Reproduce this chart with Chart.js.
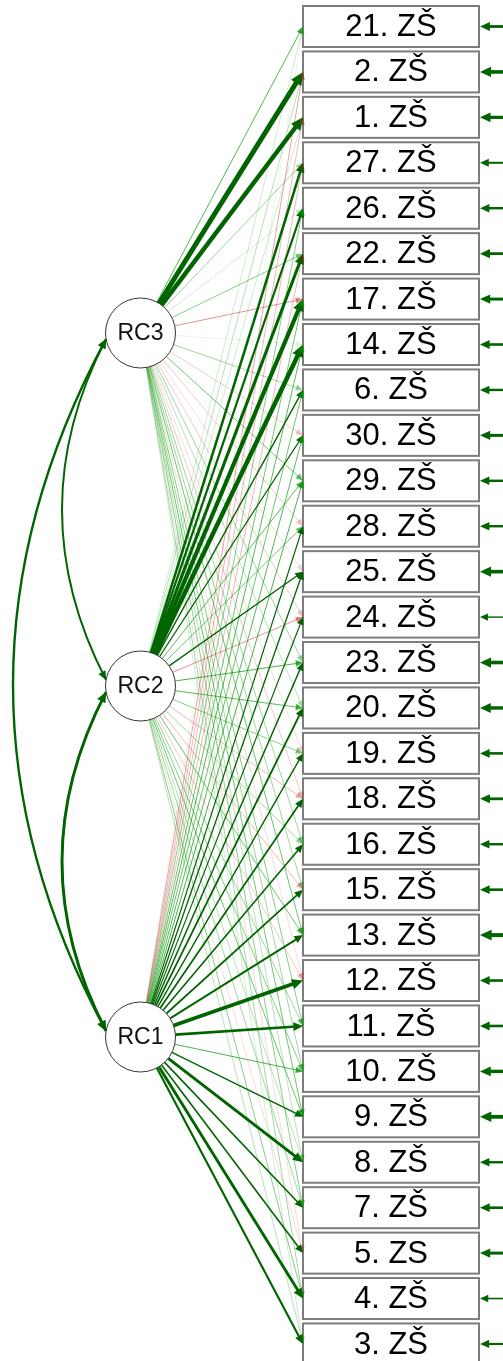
<!DOCTYPE html>
<html>
<head>
<meta charset="utf-8">
<script src="https://cdn.jsdelivr.net/npm/chart.js@4"></script>
<style>
  body { margin: 0; background: #fff; overflow: hidden; }
  canvas { display: block; }
</style>
</head>
<body>
<canvas id="semChart" width="503" height="1361"></canvas>
<script>
// manifest items, top to bottom
const items = ["21. ZŠ", "2. ZŠ", "1. ZŠ", "27. ZŠ", "26. ZŠ", "22. ZŠ", "17. ZŠ", "14. ZŠ", "6. ZŠ", "30. ZŠ",
  "29. ZŠ", "28. ZŠ", "25. ZŠ", "24. ZŠ", "23. ZŠ", "20. ZŠ", "19. ZŠ", "18. ZŠ", "16. ZŠ", "15. ZŠ",
  "13. ZŠ", "12. ZŠ", "11. ZŠ", "10. ZŠ", "9. ZŠ", "8. ZŠ", "7. ZŠ", "5. ZS", "4. ZŠ", "3. ZŠ"];

const latents = ["RC3", "RC2", "RC1"];

// loadings, same order as items
const loadRC3 = [0.36, 0.92, 0.86, 0.22, 0.1, 0.25, -0.3, 0.05, 0.2, -0.15,
  0.3, -0.15, -0.1, -0.15, 0.2, 0.15, -0.1, -0.15, 0.2, 0.2,
  0.3, -0.1, 0.25, 0.2, 0.3, 0.15, 0.25, -0.1, 0.2, 0.1];
const loadRC2 = [0.1, 0.15, 0.1, 0.6, 0.56, 0.68, 0.82, 0.86, 0.45, 0.42,
  0.35, 0.3, 0.44, -0.3, 0.38, 0.35, 0.25, -0.2, 0.2, -0.2,
  0.3, -0.15, 0.2, 0.25, 0.3, 0.15, 0.2, -0.1, 0.25, 0.15];
const loadRC1 = [0.05, -0.25, -0.2, -0.2, 0.25, -0.2, 0.3, 0.35, 0.3, 0.35,
  0.38, 0.43, 0.44, 0.42, 0.45, 0.5, 0.45, 0.5, 0.48, 0.5,
  0.52, 0.75, 0.6, 0.38, 0.45, 0.66, 0.48, 0.48, 0.65, 0.55];

// residual variances (arrow on the right)
const residuals = [0.5, 0.7, 0.6, 0.3, 0.4, 0.5, 0.55, 0.45, 0.4, 0.55,
  0.4, 0.4, 0.7, 0.15, 0.7, 0.65, 0.45, 0.5, 0.4, 0.45,
  0.8, 0.45, 0.45, 0.65, 0.75, 0.4, 0.45, 0.55, 0.2, 0.35];

// latent correlations
const corFrom = ["RC3", "RC2", "RC3"];
const corTo = ["RC2", "RC1", "RC1"];
const corValues = [0.32, 0.65, 0.45];

// ---- layout ----
const W = 503, H = 1361;
const boxLeft = 303, boxRight = 479, boxH = 41, boxTop0 = 6, pitch = 45.43;
const latentX = 140.5, latentR = 35;
const latentY = { RC3: 333, RC2: 686, RC1: 1037 };
const itemY = (i) => boxTop0 + boxH / 2 + i * pitch;
const cut = 0.4;

const edgeStyle = (w) => {
  const a = Math.abs(w);
  if (a >= cut) {
    return { color: w > 0 ? "rgb(0,100,0)" : "rgb(255,0,0)", width: 1 + (a - cut) / (0.9 - cut) * 3.8 };
  }
  const alpha = Math.min(1, a / cut) * 0.85;
  return { color: w > 0 ? `rgba(0,153,0,${alpha})` : `rgba(191,0,0,${alpha * 0.75})`, width: 0.9 };
};

const arrowSize = (lw) => ({ len: 6 + lw * 1.4, half: 2.6 + lw * 0.7 });

const datasets = [];

// latent circles on top
datasets.push({
  data: latents.map((l) => ({ x: latentX, y: latentY[l] })),
  pointRadius: latentR,
  pointHoverRadius: latentR,
  pointBackgroundColor: "#fff",
  pointBorderColor: "#333",
  pointBorderWidth: 1,
  showLine: false,
  order: 0,
});

const loadings = { RC3: loadRC3, RC2: loadRC2, RC1: loadRC1 };
latents.forEach((l) => {
  loadings[l].forEach((w, i) => {
    const st = edgeStyle(w);
    const tx = boxLeft, ty = itemY(i);
    const dx = tx - latentX, dy = ty - latentY[l];
    const d = Math.hypot(dx, dy);
    const ux = dx / d, uy = dy / d;
    const ar = arrowSize(st.width);
    datasets.push({
      data: [
        { x: latentX + ux * latentR, y: latentY[l] + uy * latentR },
        { x: tx - ux * ar.len * 0.7, y: ty - uy * ar.len * 0.7 },
      ],
      showLine: true,
      pointRadius: 0,
      borderColor: st.color,
      borderWidth: st.width,
      arrowTip: { x: tx, y: ty, ux, uy, color: st.color, width: st.width },
      order: 10 + Math.round((1 - Math.abs(w)) * 1000),
    });
  });
});

// residual arrows
residuals.forEach((r, i) => {
  const lw = 0.8 + r * 4;
  const ar = arrowSize(lw);
  datasets.push({
    data: [{ x: W, y: itemY(i) }, { x: boxRight + 1 + ar.len * 0.7, y: itemY(i) }],
    showLine: true,
    pointRadius: 0,
    borderColor: "rgb(0,100,0)",
    borderWidth: lw,
    arrowTip: { x: boxRight + 1, y: itemY(i), ux: -1, uy: 0, color: "rgb(0,100,0)", width: lw },
    order: 5,
  });
});

const drawArrow = (ctx, px, py, ux, uy, color, lw) => {
  const ar = arrowSize(lw);
  const bx = px - ux * ar.len, by = py - uy * ar.len;
  ctx.beginPath();
  ctx.moveTo(px, py);
  ctx.lineTo(bx - uy * ar.half, by + ux * ar.half);
  ctx.lineTo(bx + uy * ar.half, by - ux * ar.half);
  ctx.closePath();
  ctx.fillStyle = color;
  ctx.fill();
};

const pathPlugin = {
  id: "pathDiagram",
  afterDatasetsDraw(chart) {
    const ctx = chart.ctx;
    const xs = chart.scales.x, ys = chart.scales.y;
    const px = (v) => xs.getPixelForValue(v);
    const py = (v) => ys.getPixelForValue(v);
    ctx.save();

    // boxes
    items.forEach((name, i) => {
      const top = py(itemY(i) - boxH / 2), bottom = py(itemY(i) + boxH / 2);
      const left = px(boxLeft), right = px(boxRight);
      ctx.fillStyle = "#fff";
      ctx.fillRect(left, top, right - left, bottom - top);
      ctx.strokeStyle = "#7d7d7d";
      ctx.lineWidth = 2;
      ctx.strokeRect(left, top, right - left, bottom - top);
      ctx.fillStyle = "#000";
      ctx.font = "31px 'Liberation Sans', Arial, sans-serif";
      ctx.textAlign = "center";
      ctx.textBaseline = "middle";
      ctx.fillText(name, (left + right) / 2, py(itemY(i)) + 1);
    });

    // arrowheads of edges
    chart.data.datasets.forEach((ds) => {
      if (!ds.arrowTip) return;
      const a = ds.arrowTip;
      drawArrow(ctx, px(a.x), py(a.y), a.ux, a.uy, a.color, a.width);
    });

    // curved covariances on the left
    corFrom.forEach((f, k) => {
      const t = corTo[k];
      const v = corValues[k];
      const lw = 1 + v * 3;
      const ang = 10 * Math.PI / 180;
      const x0 = latentX - latentR * Math.cos(ang), y0 = latentY[f] + latentR * Math.sin(ang);
      const x1 = latentX - latentR * Math.cos(ang), y1 = latentY[t] - latentR * Math.sin(ang);
      const span = Math.abs(y1 - y0);
      const apex = span > 500 ? 13 : 62;
      const cx = 2 * apex - (x0 + x1) / 2;
      const cy = (y0 + y1) / 2;
      ctx.beginPath();
      ctx.moveTo(px(x0), py(y0));
      ctx.quadraticCurveTo(px(cx), py(cy), px(x1), py(y1));
      ctx.strokeStyle = "rgb(0,100,0)";
      ctx.lineWidth = lw;
      ctx.stroke();
      // arrowheads at both ends
      let ux = x0 - cx, uy = y0 - cy, d = Math.hypot(ux, uy);
      drawArrow(ctx, px(x0), py(y0), ux / d, uy / d, "rgb(0,100,0)", lw);
      ux = x1 - cx; uy = y1 - cy; d = Math.hypot(ux, uy);
      drawArrow(ctx, px(x1), py(y1), ux / d, uy / d, "rgb(0,100,0)", lw);
    });

    // latent labels
    latents.forEach((l) => {
      ctx.fillStyle = "#111";
      ctx.font = "23px 'Liberation Sans', Arial, sans-serif";
      ctx.textAlign = "center";
      ctx.textBaseline = "middle";
      ctx.fillText(l, px(latentX), py(latentY[l]) + 1);
    });
    ctx.restore();
  },
};

const ctx = document.getElementById("semChart").getContext("2d");
new Chart(ctx, {
  type: "scatter",
  data: { datasets },
  options: {
    responsive: false,
    devicePixelRatio: 1,
    animation: false,
    events: [],
    layout: { padding: 0, autoPadding: false },
    plugins: { legend: { display: false }, tooltip: { enabled: false } },
    scales: {
      x: { type: "linear", min: 0, max: W, display: false },
      y: { type: "linear", min: 0, max: H, reverse: true, display: false },
    },
  },
  plugins: [pathPlugin],
});
</script>
</body>
</html>
